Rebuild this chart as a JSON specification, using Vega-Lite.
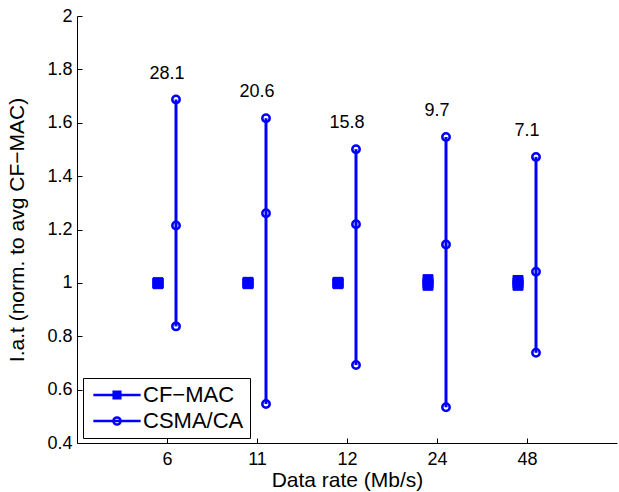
{
  "$schema": "https://vega.github.io/schema/vega-lite/v6.json",
  "width": 540,
  "height": 427,
  "autosize": "none",
  "padding": {"left": 77, "top": 16, "right": 2, "bottom": 49},
  "background": "white",
  "config": {
    "font": "Liberation Sans",
    "view": {"stroke": null},
    "axis": {
      "domainColor": "black",
      "tickColor": "black",
      "tickSize": -5,
      "labelPadding": 10,
      "labelFontSize": 18,
      "labelColor": "black",
      "titleFontSize": 21,
      "titleFontWeight": "normal",
      "titleColor": "black",
      "grid": false
    }
  },
  "data": {
    "values": [
      {"rate": "6", "lo": 0.837, "mid": 1.215, "hi": 1.687, "cf_lo": 0.997, "cf": 1.0, "cf_hi": 1.0, "ratio": "28.1"},
      {"rate": "11", "lo": 0.546, "mid": 1.261, "hi": 1.617, "cf_lo": 0.997, "cf": 1.0, "cf_hi": 1.002, "ratio": "20.6"},
      {"rate": "12", "lo": 0.692, "mid": 1.22, "hi": 1.501, "cf_lo": 0.997, "cf": 1.0, "cf_hi": 1.002, "ratio": "15.8"},
      {"rate": "24", "lo": 0.534, "mid": 1.144, "hi": 1.547, "cf_lo": 0.991, "cf": 1.0, "cf_hi": 1.012, "ratio": "9.7"},
      {"rate": "48", "lo": 0.738, "mid": 1.042, "hi": 1.472, "cf_lo": 0.991, "cf": 1.0, "cf_hi": 1.009, "ratio": "7.1"}
    ]
  },
  "encoding": {
    "x": {
      "field": "rate",
      "type": "ordinal",
      "sort": null,
      "scale": {"type": "point", "padding": 1, "domain": ["6", "11", "12", "24", "48"]},
      "axis": {"labelAngle": 0, "labelPadding": 12, "titlePadding": 1},
      "title": "Data rate (Mb/s)"
    }
  },
  "layer": [
    {
      "mark": {"type": "rule", "color": "#0000ff", "strokeWidth": 3, "xOffset": 9},
      "encoding": {
        "y": {
          "field": "lo",
          "type": "quantitative",
          "scale": {"domain": [0.4, 2], "nice": false, "zero": false},
          "axis": {"values": [0.4, 0.6, 0.8, 1, 1.2, 1.4, 1.6, 1.8, 2], "format": ".1~f", "titlePadding": 19},
          "title": "I.a.t (norm. to avg CF−MAC)"
        },
        "y2": {"field": "hi"}
      }
    },
    {
      "transform": [{"fold": ["lo", "mid", "hi"], "as": ["stat", "val"]}],
      "mark": {"type": "point", "shape": "circle", "filled": false, "size": 55, "strokeWidth": 2.5, "opacity": 1, "color": "#0000ff", "xOffset": 9},
      "encoding": {
        "y": {"field": "val", "type": "quantitative"}
      }
    },
    {
      "transform": [{"fold": ["cf_lo", "cf", "cf_hi"], "as": ["stat", "val"]}],
      "mark": {"type": "point", "shape": "square", "filled": true, "size": 100, "strokeWidth": 1, "opacity": 1, "color": "#0000ff", "stroke": "#0000ff", "xOffset": -9},
      "encoding": {
        "y": {"field": "val", "type": "quantitative"}
      }
    },
    {
      "mark": {"type": "text", "dy": -26, "fontSize": 18, "align": "center", "baseline": "middle", "color": "black"},
      "encoding": {
        "y": {"field": "hi", "type": "quantitative"},
        "text": {"field": "ratio"}
      }
    },
    {
      "transform": [{"filter": "false"}],
      "mark": {"type": "point", "filled": false, "color": "#0000ff", "strokeWidth": 2.5, "opacity": 1},
      "encoding": {
        "y": {"field": "lo", "type": "quantitative"},
        "shape": {
          "field": "series",
          "type": "nominal",
          "scale": {
            "domain": ["CF−MAC", "CSMA/CA"],
            "range": [
              "M-4.3,0H4.3M-0.6,-0.6H0.6V0.6H-0.6ZM-0.25,-0.25H0.25V0.25H-0.25Z",
              "M-4.3,0H4.3M0.65,0A0.65,0.65 0 1,1 -0.65,0A0.65,0.65 0 1,1 0.65,0"
            ]
          },
          "legend": {
            "orient": "none",
            "legendX": 6,
            "legendY": 362,
            "title": null,
            "direction": "vertical",
            "fillColor": "white",
            "strokeColor": "black",
            "padding": 6,
            "labelFontSize": 22,
            "labelColor": "black",
            "labelFont": "Liberation Sans",
            "symbolSize": 121,
            "symbolOffset": 17,
            "labelOffset": 15,
            "rowPadding": 4,
            "symbolStrokeWidth": 2.5,
            "symbolStrokeColor": "#0000ff",
            "symbolFillColor": "transparent"
          }
        }
      }
    }
  ]
}
